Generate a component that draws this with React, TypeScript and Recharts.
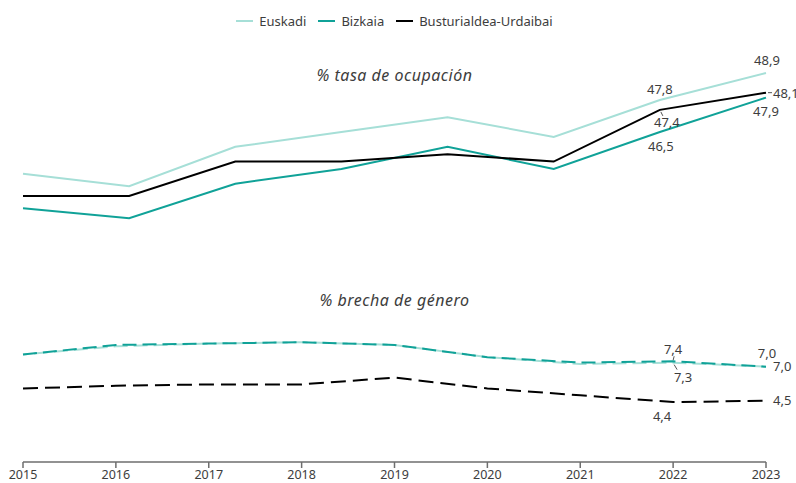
import { LineChart, Line, XAxis, YAxis, LabelList } from "recharts";

// eje de años
const axisYears = [2015, 2016, 2017, 2018, 2019, 2020, 2021, 2022, 2023];

// % tasa de ocupación
const occYears = [2016, 2017, 2018, 2019, 2020, 2021, 2022, 2023];
const occEuskadi = [44.8, 44.3, 45.9, 46.5, 47.1, 46.3, 47.8, 48.9];
const occBizkaia = [43.4, 43.0, 44.4, 45.0, 45.9, 45.0, 46.5, 47.9];
const occBusturialdea = [43.9, 43.9, 45.3, 45.3, 45.6, 45.3, 47.4, 48.1];

// % brecha de género
const gapYears = [2015, 2016, 2017, 2018, 2019, 2020, 2021, 2022, 2023];
const gapEuskadi = [7.9, 8.5, 8.7, 8.8, 8.6, 7.7, 7.2, 7.3, 7.0];
const gapBizkaia = [7.9, 8.6, 8.7, 8.8, 8.6, 7.7, 7.3, 7.4, 7.0];
const gapBusturialdea = [5.4, 5.6, 5.7, 5.7, 6.2, 5.4, 4.9, 4.4, 4.5];

const seriesNames = ["Euskadi", "Bizkaia", "Busturialdea-Urdaibai"];
const seriesColors = ["#a6dfd7", "#10a298", "#000000"];

const occRows = occYears.map((year, i) => ({
  year,
  euskadi: occEuskadi[i],
  bizkaia: occBizkaia[i],
  busturialdea: occBusturialdea[i],
}));

const gapRows = gapYears.map((year, i) => ({
  year,
  euskadi: gapEuskadi[i],
  bizkaia: gapBizkaia[i],
  busturialdea: gapBusturialdea[i],
}));

const FONT = "'Noto Sans', sans-serif";
const TEXT = "#3d3d3d";

type Place = {
  dx: number;
  dy: number;
  anchor?: "start" | "middle" | "end";
  leader?: [number, number, number, number];
};

const fmt = (v: number) => v.toFixed(1).replace(".", ",");

function placedLabel(places: Record<number, Place>) {
  return (props: any) => {
    const { x, y, value, index } = props;
    const p = places[index];
    if (!p || value == null) return null;
    return (
      <g>
        {p.leader && (
          <line
            x1={x + p.leader[0]}
            y1={y + p.leader[1]}
            x2={x + p.leader[2]}
            y2={y + p.leader[3]}
            stroke="#555"
            strokeWidth={1}
          />
        )}
        <text
          x={x + p.dx}
          y={y + p.dy}
          textAnchor={p.anchor ?? "middle"}
          fontSize={13}
          fontFamily={FONT}
          fill={TEXT}
        >
          {fmt(Number(value))}
        </text>
      </g>
    );
  };
}

function Legend() {
  return (
    <div
      style={{
        position: "absolute",
        left: 23,
        width: 743,
        top: 12,
        display: "flex",
        justifyContent: "center",
        gap: 12,
        fontFamily: FONT,
        fontSize: 13,
        color: TEXT,
      }}
    >
      {seriesNames.map((name, i) => (
        <span key={name} style={{ display: "flex", alignItems: "center", gap: 6 }}>
          <span style={{ width: 17, height: 2, background: seriesColors[i], display: "inline-block" }} />
          {name}
        </span>
      ))}
    </div>
  );
}

const titleStyle: React.CSSProperties = {
  position: "absolute",
  left: 23,
  width: 743,
  textAlign: "center",
  fontFamily: FONT,
  fontStyle: "italic",
  fontSize: 16,
  letterSpacing: 0.5,
  color: TEXT,
};

export default function App() {
  return (
    <div style={{ position: "relative", width: 796, height: 483, background: "#fff" }}>
      <style>{`body{margin:0}`}</style>
      <Legend />
      <div style={{ ...titleStyle, top: 64 }}>% tasa de ocupación</div>
      <div style={{ ...titleStyle, top: 289 }}>% brecha de género</div>
      <LineChart width={796} height={483} margin={{ top: 40, right: 30, bottom: 0, left: 23 }}>
        <XAxis
          xAxisId="years"
          type="number"
          dataKey="year"
          domain={[2015, 2023]}
          ticks={axisYears}
          allowDecimals={false}
          height={21}
          tickSize={6}
          tickMargin={2}
          stroke="#6e6e6e"
          strokeWidth={1.5}
          tick={{ fill: TEXT, fontSize: 12.5, fontFamily: FONT }}
        />
        <XAxis
          xAxisId="occ"
          orientation="top"
          type="number"
          dataKey="year"
          domain={[2016, 2023]}
          height={0}
          hide
        />
        <YAxis yAxisId="occ" type="number" domain={[33.09, 50.24]} allowDataOverflow hide />
        <YAxis yAxisId="gap" type="number" domain={[0, 31]} allowDataOverflow hide />

        {/* tasa de ocupación */}
        <Line
          data={occRows}
          xAxisId="occ"
          yAxisId="occ"
          dataKey="euskadi"
          type="linear"
          stroke={seriesColors[0]}
          strokeWidth={2}
          dot={false}
          isAnimationActive={false}
        >
          <LabelList
            dataKey="euskadi"
            content={placedLabel({ 6: { dx: 0, dy: -6.5 }, 7: { dx: 1, dy: -8 } })}
          />
        </Line>
        <Line
          data={occRows}
          xAxisId="occ"
          yAxisId="occ"
          dataKey="bizkaia"
          type="linear"
          stroke={seriesColors[1]}
          strokeWidth={2}
          dot={false}
          isAnimationActive={false}
        >
          <LabelList
            dataKey="bizkaia"
            content={placedLabel({ 6: { dx: 1, dy: 18.5 }, 7: { dx: 0, dy: 18 } })}
          />
        </Line>
        <Line
          data={occRows}
          xAxisId="occ"
          yAxisId="occ"
          dataKey="busturialdea"
          type="linear"
          stroke={seriesColors[2]}
          strokeWidth={2}
          dot={false}
          isAnimationActive={false}
        >
          <LabelList
            dataKey="busturialdea"
            content={placedLabel({
              6: { dx: 7, dy: 17.5, leader: [1, 2, 3, 6] },
              7: { dx: 7, dy: 5, anchor: "start", leader: [2, 0, 6, 0] },
            })}
          />
        </Line>

        {/* brecha de género */}
        <Line
          data={gapRows}
          xAxisId="years"
          yAxisId="gap"
          dataKey="euskadi"
          type="linear"
          stroke={seriesColors[0]}
          strokeWidth={2}
          strokeDasharray="14 6"
          strokeDashoffset={9}
          dot={false}
          isAnimationActive={false}
        >
          <LabelList
            dataKey="euskadi"
            content={placedLabel({
              7: { dx: 10, dy: 19.5, leader: [1, 2, 4, 7] },
              8: { dx: 1, dy: -9 },
            })}
          />
        </Line>
        <Line
          data={gapRows}
          xAxisId="years"
          yAxisId="gap"
          dataKey="bizkaia"
          type="linear"
          stroke={seriesColors[1]}
          strokeWidth={2}
          strokeDasharray="14 6"
          dot={false}
          isAnimationActive={false}
        >
          <LabelList
            dataKey="bizkaia"
            content={placedLabel({
              7: { dx: 0, dy: -7.5, leader: [1, -5, 0, -1] },
              8: { dx: 7, dy: 4.5, anchor: "start" },
            })}
          />
        </Line>
        <Line
          data={gapRows}
          xAxisId="years"
          yAxisId="gap"
          dataKey="busturialdea"
          type="linear"
          stroke={seriesColors[2]}
          strokeWidth={2}
          strokeDasharray="15 7"
          dot={false}
          isAnimationActive={false}
        >
          <LabelList
            dataKey="busturialdea"
            content={placedLabel({
              7: { dx: -11, dy: 18.5 },
              8: { dx: 7, dy: 4.5, anchor: "start" },
            })}
          />
        </Line>
      </LineChart>
    </div>
  );
}
